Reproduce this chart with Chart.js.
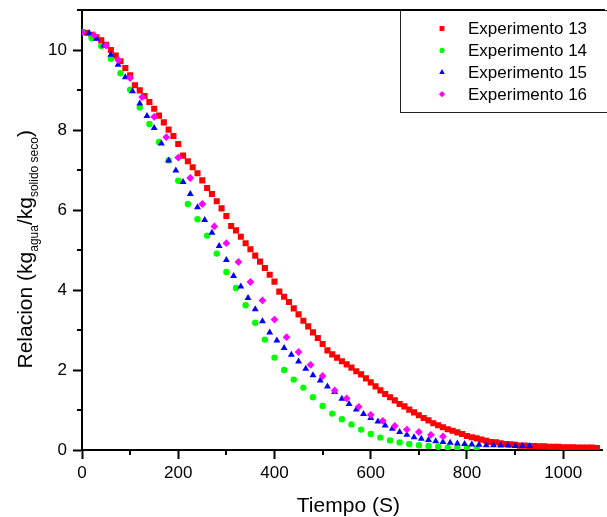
<!DOCTYPE html>
<html>
<head>
<meta charset="utf-8">
<script src="https://cdn.jsdelivr.net/npm/chart.js@4.4.1/dist/chart.umd.min.js"></script>
<style>
  body { margin: 0; background: #fff; }
  canvas { display: block; }
</style>
</head>
<body>
<canvas id="myChart" width="607" height="517"></canvas>
<script>
// Datos
const tiempo13 = [
  0, 10, 20, 30, 40, 50, 60, 70, 80, 90,
  100, 110, 120, 130, 140, 150, 160, 170, 180, 190,
  200, 210, 220, 230, 240, 250, 260, 270, 280, 290,
  300, 310, 320, 330, 340, 350, 360, 370, 380, 390,
  400, 410, 420, 430, 440, 450, 460, 470, 480, 490,
  500, 510, 520, 530, 540, 550, 560, 570, 580, 590,
  600, 610, 620, 630, 640, 650, 660, 670, 680, 690,
  700, 710, 720, 730, 740, 750, 760, 770, 780, 790,
  800, 810, 820, 830, 840, 850, 860, 870, 880, 890,
  900, 910, 920, 930, 940, 950, 960, 970, 980, 990,
  1000, 1010, 1020, 1030, 1040, 1050, 1060, 1070
];
const relacion13 = [
  10.45, 10.43, 10.38, 10.32, 10.24, 10.13, 10.00, 9.86, 9.72, 9.55,
  9.37, 9.12, 8.99, 8.85, 8.70, 8.53, 8.36, 8.19, 8.01, 7.85,
  7.65, 7.36, 7.22, 7.07, 6.92, 6.74, 6.55, 6.40, 6.22, 6.04,
  5.85, 5.60, 5.49, 5.33, 5.17, 5.02, 4.86, 4.71, 4.55, 4.38,
  4.21, 3.96, 3.83, 3.70, 3.54, 3.39, 3.23, 3.09, 2.94, 2.80,
  2.65, 2.49, 2.39, 2.31, 2.22, 2.14, 2.06, 1.97, 1.89, 1.79,
  1.69, 1.59, 1.49, 1.40, 1.32, 1.24, 1.15, 1.09, 1.01, 0.94,
  0.87, 0.80, 0.74, 0.67, 0.62, 0.57, 0.52, 0.48, 0.44, 0.40,
  0.35, 0.32, 0.29, 0.26, 0.23, 0.20, 0.19, 0.17, 0.15, 0.14,
  0.13, 0.11, 0.11, 0.10, 0.10, 0.09, 0.09, 0.08, 0.08, 0.08,
  0.07, 0.07, 0.07, 0.06, 0.06, 0.06, 0.06, 0.05
];

const tiempo14 = [
  0, 20, 40, 60, 80, 100, 120, 140, 160, 180,
  200, 220, 240, 260, 280, 300, 320, 340, 360, 380,
  400, 420, 440, 460, 480, 500, 520, 540, 560, 580,
  600, 620, 640, 660, 680, 700, 720, 740, 760, 780,
  800, 820
];
const relacion14 = [
  10.45, 10.30, 10.10, 9.78, 9.42, 9.01, 8.56, 8.15, 7.70, 7.24,
  6.73, 6.15, 5.77, 5.36, 4.91, 4.45, 4.05, 3.62, 3.18, 2.76,
  2.31, 2.00, 1.76, 1.56, 1.32, 1.10, 0.91, 0.77, 0.64, 0.51,
  0.40, 0.31, 0.24, 0.19, 0.15, 0.12, 0.10, 0.08, 0.06, 0.05,
  0.05, 0.04
];

const tiempo15 = [
  0, 15, 30, 45, 60, 75, 90, 105, 120, 135,
  150, 165, 180, 195, 210, 225, 240, 255, 270, 285,
  300, 315, 330, 345, 360, 375, 390, 405, 420, 435,
  450, 465, 480, 495, 510, 525, 540, 555, 570, 585,
  600, 615, 630, 645, 660, 675, 690, 705, 720, 735,
  750, 765, 780, 795, 810, 825, 840, 855, 870, 885,
  900, 915, 930
];
const relacion15 = [
  10.45, 10.42, 10.28, 10.11, 9.88, 9.63, 9.32, 8.97, 8.66, 8.35,
  8.05, 7.66, 7.24, 6.99, 6.70, 6.40, 6.07, 5.75, 5.43, 5.10,
  4.75, 4.35, 4.09, 3.80, 3.52, 3.22, 2.94, 2.74, 2.55, 2.38,
  2.21, 2.03, 1.87, 1.74, 1.59, 1.45, 1.28, 1.15, 1.01, 0.90,
  0.80, 0.71, 0.61, 0.53, 0.45, 0.38, 0.32, 0.28, 0.25, 0.22,
  0.20, 0.18, 0.16, 0.15, 0.14, 0.13, 0.12, 0.12, 0.11, 0.11,
  0.10, 0.10, 0.10
];

const tiempo16 = [
  0, 25, 50, 75, 100, 125, 150, 175, 200, 225,
  250, 275, 300, 325, 350, 375, 400, 425, 450, 475,
  500, 525, 550, 575, 600, 625, 650, 675, 700, 725,
  750
];
const relacion16 = [
  10.44, 10.37, 10.11, 9.75, 9.30, 8.82, 8.33, 7.82, 7.31, 6.80,
  6.15, 5.59, 5.17, 4.70, 4.20, 3.74, 3.26, 2.82, 2.45, 2.13,
  1.85, 1.49, 1.29, 1.08, 0.88, 0.73, 0.60, 0.51, 0.45, 0.38,
  0.34
];

const ticksX = [0, 200, 400, 600, 800, 1000];
const ticksY = [0, 2, 4, 6, 8, 10];

const FONT = '"Liberation Sans", Arial, sans-serif';

function puntos(xs, ys) {
  return xs.map((x, i) => ({ x: x, y: ys[i] }));
}

const series = [
  { label: 'Experimento 13', x: tiempo13, y: relacion13, color: '#ff0000', style: 'rect', radius: 4.3, order: 4 },
  { label: 'Experimento 14', x: tiempo14, y: relacion14, color: '#00ff00', style: 'circle', radius: 3.2, order: 3 },
  { label: 'Experimento 15', x: tiempo15, y: relacion15, color: '#0000ff', style: 'triangle', radius: 4.0, order: 2 },
  { label: 'Experimento 16', x: tiempo16, y: relacion16, color: '#ff00ff', style: 'rectRot', radius: 3.9, order: 1 }
];

const data = {
  datasets: series.map(s => ({
    label: s.label,
    data: puntos(s.x, s.y),
    showLine: false,
    pointStyle: s.style,
    pointRadius: s.radius,
    pointHoverRadius: s.radius,
    backgroundColor: s.color,
    borderColor: s.color,
    pointBorderWidth: 0,
    order: s.order
  }))
};

// ticks menores, marco superior, titulos y leyenda
const extras = {
  id: 'extras',
  afterDraw(chart) {
    const ctx = chart.ctx;
    const a = chart.chartArea;
    const sx = chart.scales.x;
    const sy = chart.scales.y;
    ctx.save();
    ctx.strokeStyle = '#000';
    ctx.lineWidth = 2;
    ctx.beginPath();
    sx.ticks.forEach(t => {
      if (ticksX.includes(t.value)) return;
      const px = Math.round(sx.getPixelForValue(t.value));
      ctx.moveTo(px, a.bottom);
      ctx.lineTo(px, a.bottom + 5);
    });
    sy.ticks.forEach(t => {
      if (ticksY.includes(t.value)) return;
      const py = Math.round(sy.getPixelForValue(t.value));
      ctx.moveTo(a.left, py);
      ctx.lineTo(a.left - 5, py);
    });
    // marco superior
    ctx.moveTo(a.left - 1, a.top);
    ctx.lineTo(a.right + 2, a.top);
    ctx.stroke();

    // titulo eje x
    ctx.fillStyle = '#000';
    ctx.font = '21px ' + FONT;
    ctx.textAlign = 'center';
    ctx.textBaseline = 'alphabetic';
    ctx.fillText('Tiempo (S)', (a.left + a.right) / 2 + 6, a.bottom + 62);

    // titulo eje y con subindices
    const partes = [
      ['Relacion (kg', 21, 0],
      ['agua', 12, 6.5],
      ['/kg', 21, 0],
      ['solido seco', 12, 6.5],
      [')', 21, 0]
    ];
    ctx.translate(a.left - 50.5, a.bottom - 81.5);
    ctx.rotate(-Math.PI / 2);
    ctx.textAlign = 'left';
    let pos = 0;
    partes.forEach(p => {
      ctx.font = p[1] + 'px ' + FONT;
      ctx.fillText(p[0], pos, p[2]);
      pos += ctx.measureText(p[0]).width;
    });
    ctx.restore();

    // leyenda
    ctx.save();
    const w = 203, h = 102;
    const x0 = Math.round(a.right) - w, y0 = Math.round(a.top);
    ctx.fillStyle = '#fff';
    ctx.fillRect(x0, y0, w + 10, h);
    ctx.strokeStyle = '#222';
    ctx.lineWidth = 1;
    ctx.strokeRect(x0 + 0.5, y0 + 0.5, w + 10, h);
    ctx.beginPath();
    ctx.lineWidth = 2;
    ctx.strokeStyle = '#000';
    ctx.moveTo(x0, a.top);
    ctx.lineTo(a.right + 2, a.top);
    ctx.stroke();
    ctx.font = '17px ' + FONT;
    ctx.textAlign = 'left';
    ctx.textBaseline = 'middle';
    series.forEach((s, i) => {
      const yy = y0 + 18.5 + i * 21.9;
      ctx.fillStyle = s.color;
      Chart.helpers.drawPoint(ctx, { pointStyle: s.style, radius: s.radius * 0.8, borderWidth: 0, rotation: 0 }, x0 + 42, yy);
      ctx.fillStyle = '#000';
      ctx.fillText(s.label, x0 + 68, yy + 1);
    });
    ctx.restore();
  }
};

const options = {
  responsive: false,
  animation: false,
  devicePixelRatio: 1,
  layout: { padding: { top: 10, right: 0, bottom: 0, left: 0 } },
  plugins: {
    legend: { display: false },
    tooltip: { enabled: false }
  },
  scales: {
    x: {
      type: 'linear',
      min: 0,
      max: 1082,
      afterFit(scale) {
        scale.height = 67;
        scale.paddingLeft = 0;
        scale.paddingRight = 0;
      },
      border: { color: '#000', width: 2 },
      grid: {
        drawOnChartArea: false,
        tickLength: 9,
        tickWidth: 2,
        tickColor: c => ticksX.includes(c.tick.value) ? '#000' : 'rgba(0,0,0,0)'
      },
      ticks: {
        stepSize: 100,
        includeBounds: false,
        autoSkip: false,
        maxRotation: 0,
        padding: 4,
        color: '#000',
        font: { family: FONT, size: 17 },
        callback: v => ticksX.includes(v) ? String(v) : ''
      }
    },
    y: {
      min: 0,
      max: 11,
      afterFit(scale) {
        scale.width = 82;
        scale.paddingTop = 0;
        scale.paddingBottom = 0;
      },
      border: { color: '#000', width: 2 },
      grid: {
        drawOnChartArea: false,
        tickLength: 9,
        tickWidth: 2,
        tickColor: c => ticksY.includes(c.tick.value) ? '#000' : 'rgba(0,0,0,0)'
      },
      ticks: {
        stepSize: 1,
        autoSkip: false,
        padding: 6,
        color: '#000',
        font: { family: FONT, size: 17 },
        callback: v => ticksY.includes(v) ? String(v) : ''
      }
    }
  }
};

const ctx = document.getElementById('myChart').getContext('2d');
const myChart = new Chart(ctx, {
  type: 'scatter',
  data: data,
  options: options,
  plugins: [extras]
});
</script>
</body>
</html>
